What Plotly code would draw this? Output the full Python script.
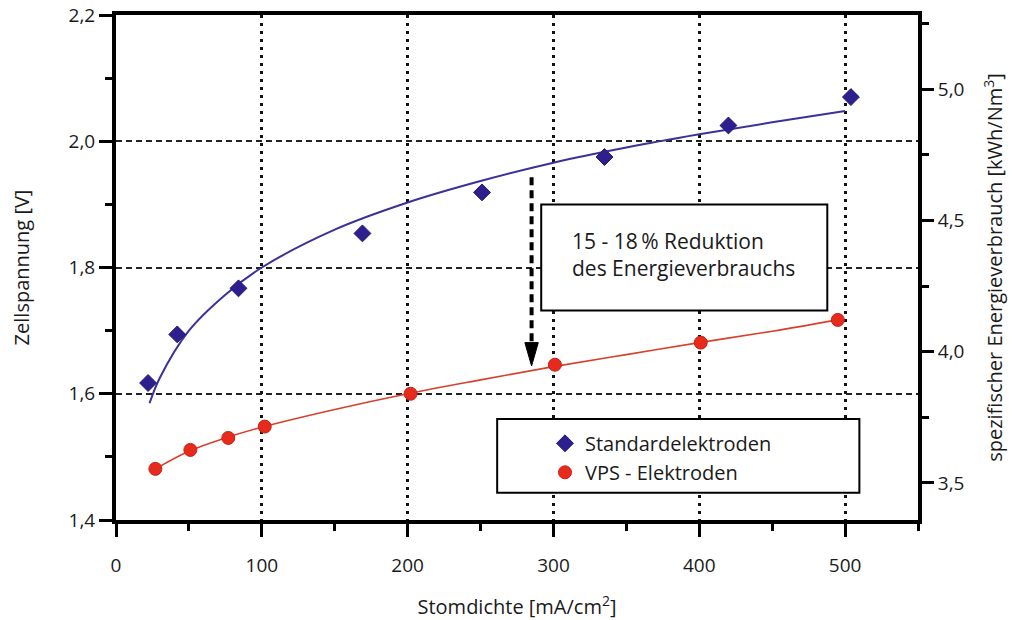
import plotly.graph_objects as go

# ---- data ----
std_x = [22, 42, 84, 169, 251, 335, 420, 504]
std_y = [1.617, 1.694, 1.767, 1.854, 1.919, 1.975, 2.025, 2.070]

vps_x = [27, 51, 77, 102, 202, 301, 401, 495]
vps_y = [1.481, 1.511, 1.530, 1.548, 1.600, 1.646, 1.681, 1.717]

# trend curves
std_fit_x = [23, 30, 50, 75, 100, 150, 200, 250, 300, 350, 400, 450, 500]
std_fit_y = [1.585, 1.625, 1.700, 1.757, 1.800, 1.860, 1.903, 1.937, 1.966, 1.990, 2.011, 2.030, 2.048]

vps_fit_x = [27, 50, 75, 100, 150, 200, 250, 300, 350, 400, 450, 495]
vps_fit_y = [1.481, 1.509, 1.530, 1.547, 1.575, 1.600, 1.622, 1.643, 1.662, 1.681, 1.699, 1.717]

x_ticks = [0, 100, 200, 300, 400, 500]
x_ticktext = ["0", "100", "200", "300", "400", "500"]
y_ticks = [1.4, 1.6, 1.8, 2.0, 2.2]
y_ticktext = ["1,4", "1,6", "1,8", "2,0", "2,2"]
y2_ticks = [3.5, 4.0, 4.5, 5.0]
y2_ticktext = ["3,5", "4,0", "4,5", "5,0"]
y2_minor = [3.75, 4.25, 4.75, 5.25]

FONT = "Open Sans"
TXT = "#1a1a1a"
BLUE = "#2e1f8f"
RED = "#e62a1c"

fig = go.Figure()

fig.add_trace(go.Scatter(x=std_fit_x, y=std_fit_y, mode="lines", line=dict(color="#3a3199", width=2, shape="spline"),
                         showlegend=False, hoverinfo="skip"))
fig.add_trace(go.Scatter(x=vps_fit_x, y=vps_fit_y, mode="lines", line=dict(color="#d8402c", width=1.6, shape="spline"),
                         showlegend=False, hoverinfo="skip"))
fig.add_trace(go.Scatter(x=std_x, y=std_y, mode="markers", name="Standardelektroden",
                         marker=dict(symbol="diamond", size=13, color=BLUE, line=dict(color="#24187a", width=1))))
fig.add_trace(go.Scatter(x=vps_x, y=vps_y, mode="markers", name="VPS - Elektroden",
                         marker=dict(symbol="circle", size=13, color=RED, line=dict(color="#c8201a", width=1))))
fig.add_trace(go.Scatter(x=[None], y=[None], yaxis="y2", showlegend=False, hoverinfo="skip"))

# annotation box, legend box, arrow
ann_box = dict(x0=291.6, x1=487.8, y0=1.732, y1=1.900)
leg_box = dict(x0=261.4, x1=509.8, y0=1.443, y1=1.560)
arrow_x = 285
arrow_top, arrow_base, arrow_tip = 1.943, 1.681, 1.644
arrow_half = 4.6

shapes = [
    dict(type="rect", xref="x", yref="y", **ann_box, line=dict(color="black", width=2), fillcolor="white", layer="above"),
    dict(type="rect", xref="x", yref="y", **leg_box, line=dict(color="black", width=2), fillcolor="white", layer="above"),
    dict(type="line", xref="x", yref="y", x0=arrow_x, x1=arrow_x, y0=arrow_top, y1=arrow_base,
         line=dict(color="black", width=4, dash="8px,5px"), layer="above"),
    dict(type="path", xref="x", yref="y",
         path=f"M {arrow_x-arrow_half},{arrow_base} L {arrow_x+arrow_half},{arrow_base} L {arrow_x},{arrow_tip} Z",
         fillcolor="black", line=dict(color="black", width=1), layer="above"),
]

fig.update_layout(
    width=1023, height=620,
    margin=dict(l=116, r=105, t=15, b=100),
    paper_bgcolor="white", plot_bgcolor="white",
    font=dict(family=FONT, size=20, color=TXT),
    shapes=shapes,
    annotations=[dict(x=311.5, y=1.821, xref="x", yref="y", xanchor="left", yanchor="middle", align="left",
                      text="15 - 18\u2009% Reduktion<br>des Energieverbrauchs", showarrow=False,
                      font=dict(family=FONT, size=21, color=TXT))],
    legend=dict(x=(545 - 116) / 802, y=1 - (423 - 15) / 504, xanchor="left", yanchor="top",
                bgcolor="rgba(0,0,0,0)", borderwidth=0, font=dict(family=FONT, size=20, color=TXT),
                traceorder="normal", itemwidth=30),
    xaxis=dict(range=[0, 550], tickvals=x_ticks, ticktext=x_ticktext, ticks="outside", ticklen=13, tickwidth=3,
               tickcolor="black", showline=True, linecolor="black", linewidth=4, mirror=True,
               showgrid=True, gridcolor="#111", gridwidth=3, griddash="3px,5px", zeroline=False,
               minor=dict(dtick=50, tick0=0, ticks="outside", ticklen=7, tickwidth=3, tickcolor="black", showgrid=False),
               ticklabelstandoff=12, automargin=False, tickfont=dict(size=19),
               title=dict(text="Stomdichte [mA/cm<sup>2</sup>]", standoff=26, font=dict(size=20))),
    yaxis=dict(range=[1.4, 2.2], tickvals=y_ticks, ticktext=y_ticktext, ticks="outside", ticklen=13, tickwidth=3,
               tickcolor="black", showline=True, linecolor="black", linewidth=4,
               showgrid=True, gridcolor="#222", gridwidth=1.5, griddash="6px,4px", zeroline=False,
               minor=dict(dtick=0.1, tick0=1.4, ticks="outside", ticklen=7, tickwidth=3, tickcolor="black", showgrid=False),
               automargin=False, tickfont=dict(size=19),
               title=dict(text="Zellspannung [V]", standoff=35, font=dict(size=20))),
    yaxis2=dict(overlaying="y", side="right", range=[3.359, 5.282], tickvals=y2_ticks, ticktext=y2_ticktext,
                ticks="outside", ticklen=12, tickwidth=3, tickcolor="black", showline=True, linecolor="black",
                linewidth=4, showgrid=False, zeroline=False, automargin=False, tickfont=dict(size=19),
                minor=dict(tickvals=y2_minor, ticks="outside", ticklen=7, tickwidth=3, tickcolor="black", showgrid=False),
                title=dict(text="spezifischer Energieverbrauch [kWh/Nm<sup>3</sup>]", standoff=26, font=dict(size=20))),
)

fig.write_html("out.html")
